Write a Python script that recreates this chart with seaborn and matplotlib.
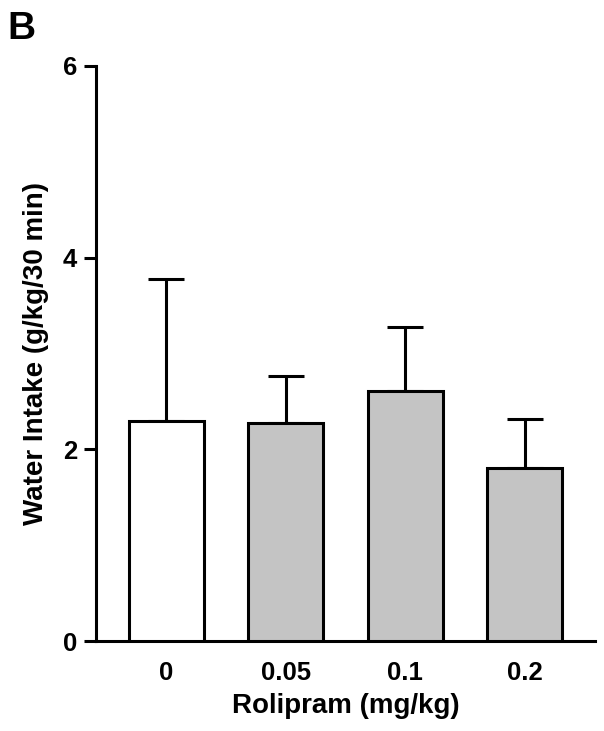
import pandas as pd
import matplotlib
matplotlib.use("Agg")
import matplotlib.pyplot as plt
import seaborn as sns

# values
doses = ['0', '0.05', '0.1', '0.2']
water_intake = [2.30, 2.27, 2.61, 1.80]
sem_upper = [1.48, 0.49, 0.67, 0.52]
bar_colors = ['#ffffff', '#c4c4c4', '#c4c4c4', '#c4c4c4']

df = pd.DataFrame({'dose': doses, 'intake': water_intake, 'sem': sem_upper})

sns.set_theme(style="white")
plt.rcParams['font.family'] = ['Liberation Sans', 'DejaVu Sans']
plt.rcParams['font.weight'] = 'bold'
plt.rcParams['text.color'] = 'black'
plt.rcParams['axes.labelcolor'] = 'black'
plt.rcParams['xtick.color'] = 'black'
plt.rcParams['ytick.color'] = 'black'

fig = plt.figure(figsize=(6.04, 7.31), dpi=100)
ax = fig.add_axes([0.159, 0.123, 0.826, 0.787])

sns.barplot(data=df, x='dose', y='intake', hue='dose', palette=bar_colors,
            order=doses, hue_order=doses, width=0.63, edgecolor='black',
            linewidth=2.2, legend=False, errorbar=None, ax=ax, zorder=3)

# upper-only SEM bars
ax.errorbar(range(len(doses)), df['intake'], yerr=[[0] * len(doses), df['sem']],
            fmt='none', ecolor='black', elinewidth=2.2, capsize=13, capthick=2.2, zorder=2)

ax.set_ylim(0, 6)
ax.set_xlim(-0.59, 3.59)
ax.set_yticks([0, 2, 4, 6])
ax.set_yticklabels(['0', '2', '4', '6'], fontsize=18.5, fontweight='bold')
ax.set_xticks(range(len(doses)))
ax.set_xticklabels(doses, fontsize=18.5, fontweight='bold')

ax.tick_params(axis='y', length=8.5, width=2.2, color='black', pad=5, left=True)
ax.tick_params(axis='x', length=0, pad=14)

for side in ['top', 'right']:
    ax.spines[side].set_visible(False)
for side in ['left', 'bottom']:
    ax.spines[side].set_color('black')
    ax.spines[side].set_linewidth(2.2)

ax.set_ylabel('Water Intake (g/kg/30 min)', fontsize=20, fontweight='bold', labelpad=10)
ax.set_xlabel('Rolipram (mg/kg)', fontsize=20, fontweight='bold', labelpad=6)

fig.text(0.012, 0.985, 'B', fontsize=28, fontweight='bold', va='top', ha='left')

plt.savefig('out.png', dpi=100)
plt.close()
